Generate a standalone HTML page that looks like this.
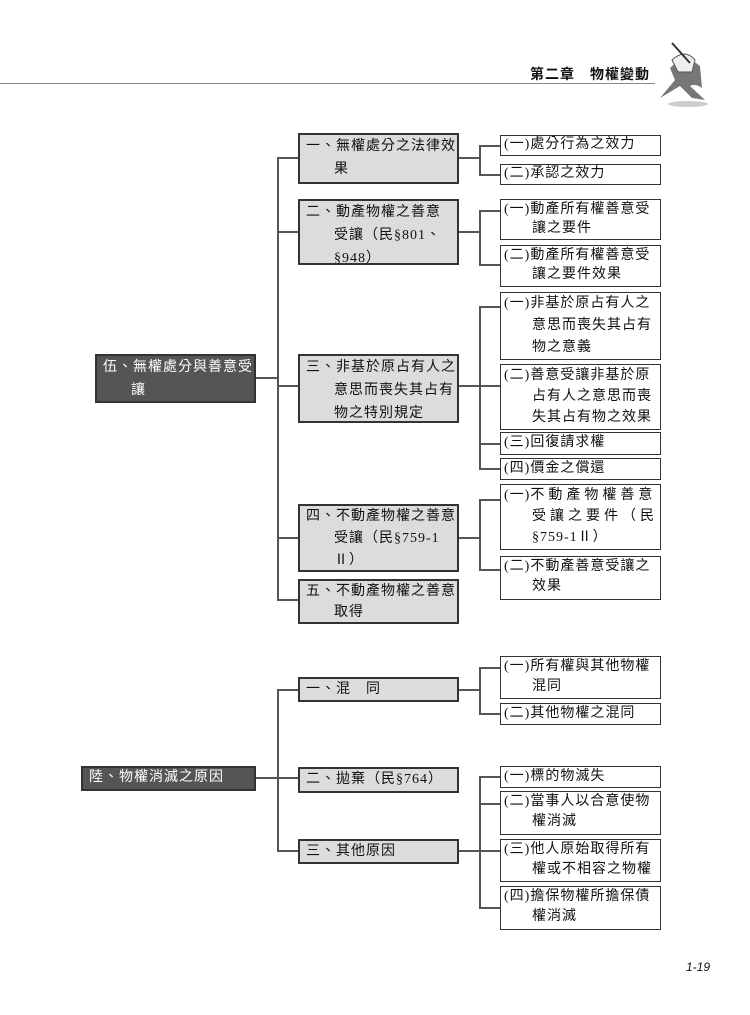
<!DOCTYPE html>
<html><head><meta charset="utf-8"><style>
body{margin:0;background:#fff;}
#p{position:relative;width:750px;height:1015px;overflow:hidden;font-family:"Liberation Serif","Noto Sans CJK TC",sans-serif;font-size:14px;color:#111;}
.b{position:absolute;box-sizing:border-box;border:1.5px solid #333;line-height:23px;white-space:nowrap;letter-spacing:1px;overflow:hidden;}
.m{background:#dcdcdc;left:298px;width:161px;padding:0 0 0 6px;border-width:2px;}
.r{background:#fff;left:500px;width:161px;padding:0 0 0 3px;}
.root{background:#555;color:#fff;border-color:#333;border-width:2px;padding-left:6px;}
.i{padding-left:28px;}
.l{position:absolute;background:#555;}
</style></head><body><div id="p">
<div class="l" style="left:0;top:83px;width:655px;height:1px;background:#888"></div>
<div style="position:absolute;left:530px;top:64px;font-weight:bold;font-size:14px;letter-spacing:1px;font-family:'Noto Sans CJK TC',sans-serif">第二章　物權變動</div>
<svg style="position:absolute;left:650px;top:38px" width="70" height="72"><ellipse cx="38" cy="66" rx="20" ry="3" fill="#ccc"/><path d="M20 30 Q35 15 50 28 L52 50 Q45 45 40 48 L55 62 L42 60 L30 48 L10 60 L25 42 Z" fill="#777"/><path d="M22 22 Q35 10 45 22 L42 34 L28 34Z" fill="#eee" stroke="#555"/><line x1="22" y1="5" x2="40" y2="25" stroke="#333" stroke-width="2"/></svg>

<div class="b m root" style="left:95px;top:354px;width:161px;height:49px">伍、無權處分與善意受<br><span class="i">讓</span></div>
<div class="l" style="left:256px;top:377px;width:22px;height:2px"></div>
<div class="l" style="left:277px;top:157px;width:2px;height:444px"></div>
<div class="l" style="left:277px;top:157px;width:21px;height:2px"></div>
<div class="l" style="left:277px;top:231px;width:21px;height:2px"></div>
<div class="l" style="left:277px;top:385px;width:21px;height:2px"></div>
<div class="l" style="left:277px;top:537px;width:21px;height:2px"></div>
<div class="l" style="left:277px;top:599px;width:21px;height:2px"></div>

<div class="b m" style="top:133px;height:51px">一、無權處分之法律效<br><span class="i">果</span></div>
<div class="b m" style="top:199px;height:66px">二、動產物權之善意<br><span class="i">受讓（民§801、</span><br><span class="i">§948）</span></div>
<div class="b m" style="top:354px;height:69px">三、非基於原占有人之<br><span class="i">意思而喪失其占有</span><br><span class="i">物之特別規定</span></div>
<div class="b m" style="top:504px;height:68px;line-height:22px">四、不動產物權之善意<br><span class="i">受讓（民§759-1</span><br><span class="i">Ⅱ）</span></div>
<div class="b m" style="top:579px;height:45px;line-height:21px">五、不動產物權之善意<br><span class="i">取得</span></div>

<div class="l" style="left:459px;top:157px;width:21px;height:2px"></div>
<div class="l" style="left:479px;top:145px;width:2px;height:30px"></div>
<div class="l" style="left:479px;top:145px;width:21px;height:2px"></div>
<div class="l" style="left:479px;top:174px;width:21px;height:2px"></div>
<div class="b r" style="top:135px;height:21px;line-height:18px">(一)處分行為之效力</div>
<div class="b r" style="top:164px;height:21px;line-height:18px">(二)承認之效力</div>

<div class="l" style="left:459px;top:231px;width:21px;height:2px"></div>
<div class="l" style="left:479px;top:210px;width:2px;height:56px"></div>
<div class="l" style="left:479px;top:210px;width:21px;height:2px"></div>
<div class="l" style="left:479px;top:264px;width:21px;height:2px"></div>
<div class="b r" style="top:199px;height:41px;line-height:19px">(一)動產所有權善意受<br><span class="i">讓之要件</span></div>
<div class="b r" style="top:245px;height:42px;line-height:19px">(二)動產所有權善意受<br><span class="i">讓之要件效果</span></div>

<div class="l" style="left:459px;top:385px;width:21px;height:2px"></div>
<div class="l" style="left:479px;top:306px;width:2px;height:164px"></div>
<div class="l" style="left:479px;top:306px;width:21px;height:2px"></div>
<div class="l" style="left:479px;top:385px;width:21px;height:2px"></div>
<div class="l" style="left:479px;top:443px;width:21px;height:2px"></div>
<div class="l" style="left:479px;top:468px;width:21px;height:2px"></div>
<div class="b r" style="top:292px;height:68px;line-height:22px">(一)非基於原占有人之<br><span class="i">意思而喪失其占有</span><br><span class="i">物之意義</span></div>
<div class="b r" style="top:364px;height:66px;line-height:21px">(二)善意受讓非基於原<br><span class="i">占有人之意思而喪</span><br><span class="i">失其占有物之效果</span></div>
<div class="b r" style="top:432px;height:23px;line-height:20px">(三)回復請求權</div>
<div class="b r" style="top:458px;height:22px;line-height:19px">(四)價金之償還</div>

<div class="l" style="left:459px;top:537px;width:21px;height:2px"></div>
<div class="l" style="left:479px;top:499px;width:2px;height:72px"></div>
<div class="l" style="left:479px;top:499px;width:21px;height:2px"></div>
<div class="l" style="left:479px;top:569px;width:21px;height:2px"></div>
<div class="b r" style="top:484px;height:66px;line-height:21px">(一)<span style="letter-spacing:4px">不動產物權善意</span><br><span class="i" style="letter-spacing:4px">受讓之要件（民</span><br><span class="i">§759-1Ⅱ）</span></div>
<div class="b r" style="top:556px;height:44px;line-height:20px">(二)不動產善意受讓之<br><span class="i">效果</span></div>

<div class="b m root" style="left:81px;top:766px;width:175px;height:25px;line-height:20px">陸、物權消滅之原因</div>
<div class="l" style="left:256px;top:777px;width:42px;height:2px"></div>
<div class="l" style="left:277px;top:689px;width:2px;height:163px"></div>
<div class="l" style="left:277px;top:689px;width:21px;height:2px"></div>
<div class="l" style="left:277px;top:850px;width:21px;height:2px"></div>
<div class="b m" style="top:677px;height:25px;line-height:21px">一、混　同</div>
<div class="b m" style="top:767px;height:26px;line-height:22px">二、拋棄（民§764）</div>
<div class="b m" style="top:839px;height:25px;line-height:21px">三、其他原因</div>

<div class="l" style="left:459px;top:689px;width:21px;height:2px"></div>
<div class="l" style="left:479px;top:667px;width:2px;height:48px"></div>
<div class="l" style="left:479px;top:667px;width:21px;height:2px"></div>
<div class="l" style="left:479px;top:713px;width:21px;height:2px"></div>
<div class="b r" style="top:656px;height:43px;line-height:20px">(一)所有權與其他物權<br><span class="i">混同</span></div>
<div class="b r" style="top:703px;height:22px;line-height:19px">(二)其他物權之混同</div>

<div class="l" style="left:459px;top:850px;width:21px;height:2px"></div>
<div class="l" style="left:479px;top:776px;width:2px;height:133px"></div>
<div class="l" style="left:479px;top:776px;width:21px;height:2px"></div>
<div class="l" style="left:479px;top:803px;width:21px;height:2px"></div>
<div class="l" style="left:479px;top:850px;width:21px;height:2px"></div>
<div class="l" style="left:479px;top:907px;width:21px;height:2px"></div>
<div class="b r" style="top:766px;height:22px;line-height:19px">(一)標的物滅失</div>
<div class="b r" style="top:791px;height:44px;line-height:20px">(二)當事人以合意使物<br><span class="i">權消滅</span></div>
<div class="b r" style="top:839px;height:43px;line-height:20px">(三)他人原始取得所有<br><span class="i">權或不相容之物權</span></div>
<div class="b r" style="top:886px;height:44px;line-height:20px">(四)擔保物權所擔保債<br><span class="i">權消滅</span></div>

<div style="position:absolute;left:686px;top:960px;font-family:'Liberation Sans',sans-serif;font-style:italic;font-size:12px">1-19</div>
</div></body></html>
